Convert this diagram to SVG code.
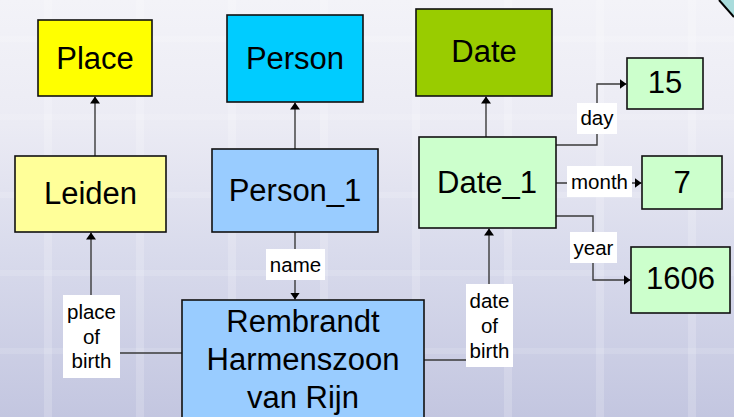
<svg xmlns="http://www.w3.org/2000/svg" width="734" height="417" viewBox="0 0 734 417">
  <defs>
    <linearGradient id="bg" x1="0" y1="0" x2="0" y2="1">
      <stop offset="0" stop-color="#f3f3f8"/>
      <stop offset="0.3" stop-color="#ebebf4"/>
      <stop offset="0.6" stop-color="#d9dbec"/>
      <stop offset="1" stop-color="#c3c6e0"/>
    </linearGradient>
    <pattern id="grid" width="92" height="78" patternUnits="userSpaceOnUse">
      <rect x="44" y="0" width="8" height="78" fill="#ffffff" opacity="0.18"/>
      <rect x="0" y="36" width="92" height="6" fill="#ffffff" opacity="0.12"/>
    </pattern>
    <marker id="arrow" viewBox="0 0 7 10" refX="7" refY="5" markerWidth="7" markerHeight="10" markerUnits="userSpaceOnUse" orient="auto">
      <path d="M0,0 L7,5 L0,10 z" fill="#000"/>
    </marker>
    <style>
      .box { stroke: #111; stroke-width: 1.6; }
      .big { font-family: "Liberation Sans", Arial, sans-serif; font-size: 31px; fill: #000; text-anchor: middle; }
      .lbl { font-family: "Liberation Sans", Arial, sans-serif; font-size: 20.5px; fill: #000; text-anchor: middle; }
      .conn { fill: none; stroke: #3a3a3a; stroke-width: 1.4; }
      .tag { fill: #ffffff; }
    </style>
  </defs>

  <!-- backdrop -->
  <rect x="0" y="0" width="734" height="417" fill="url(#bg)"/>
  <rect x="0" y="0" width="734" height="417" fill="url(#grid)"/>
  <polygon points="719,0 734,0 734,17" fill="#a9dcdc"/>
  <line x1="719" y1="0" x2="734" y2="17" stroke="#000" stroke-width="2"/>

  <!-- connectors -->
  <g id="connectors">
    <line class="conn" x1="95" y1="156" x2="95" y2="96.5" marker-end="url(#arrow)"/>
    <line class="conn" x1="295" y1="149" x2="295" y2="102.5" marker-end="url(#arrow)"/>
    <line class="conn" x1="486" y1="137" x2="486" y2="96.5" marker-end="url(#arrow)"/>
    <line class="conn" x1="295" y1="232" x2="295" y2="299.5" marker-end="url(#arrow)"/>
    <path class="conn" d="M182,353 H91 V232.5" marker-end="url(#arrow)"/>
    <path class="conn" d="M424,360 H489 V228.5" marker-end="url(#arrow)"/>
    <path class="conn" d="M556,145 H597 V84 H626.5" marker-end="url(#arrow)"/>
    <path class="conn" d="M556,183 H641.5" marker-end="url(#arrow)"/>
    <path class="conn" d="M556,216 H593 V280 H630.5" marker-end="url(#arrow)"/>

    <rect class="tag" x="266" y="249" width="59" height="31"/>
    <text class="lbl" x="295.5" y="272">name</text>

    <rect class="tag" x="63" y="295" width="57" height="83"/>
    <text class="lbl" x="91.5" y="319">place</text>
    <text class="lbl" x="91.5" y="343.5">of</text>
    <text class="lbl" x="91.5" y="368">birth</text>

    <rect class="tag" x="466" y="284" width="47" height="83"/>
    <text class="lbl" x="489.5" y="308">date</text>
    <text class="lbl" x="489.5" y="333">of</text>
    <text class="lbl" x="489.5" y="358">birth</text>

    <rect class="tag" x="577" y="103" width="40" height="31"/>
    <text class="lbl" x="597" y="125">day</text>

    <rect class="tag" x="567" y="166" width="65" height="31"/>
    <text class="lbl" x="599.5" y="189">month</text>

    <rect class="tag" x="570" y="232" width="47" height="31"/>
    <text class="lbl" x="593.5" y="255">year</text>
  </g>

  <!-- nodes -->
  <g id="place">
    <rect class="box" x="38" y="20" width="114" height="76" fill="#ffff00"/>
    <text class="big" x="95" y="69">Place</text>
  </g>
  <g id="person">
    <rect class="box" x="227" y="15" width="136" height="87" fill="#00ccff"/>
    <text class="big" x="295" y="69">Person</text>
  </g>
  <g id="date">
    <rect class="box" x="416" y="9" width="136" height="87" fill="#99cc00"/>
    <text class="big" x="484" y="62">Date</text>
  </g>
  <g id="leiden">
    <rect class="box" x="15" y="156" width="151" height="76" fill="#ffff99"/>
    <text class="big" x="90.5" y="204">Leiden</text>
  </g>
  <g id="person_1">
    <rect class="box" x="212" y="149" width="166" height="83" fill="#99ccff"/>
    <text class="big" x="295" y="201">Person_1</text>
  </g>
  <g id="date_1">
    <rect class="box" x="419" y="137" width="137" height="91" fill="#ccffcc"/>
    <text class="big" x="487" y="193">Date_1</text>
  </g>
  <g id="day15">
    <rect class="box" x="627" y="58" width="76" height="51" fill="#ccffcc"/>
    <text class="big" x="665" y="93">15</text>
  </g>
  <g id="month7">
    <rect class="box" x="642" y="156" width="80" height="53" fill="#ccffcc"/>
    <text class="big" x="682" y="193">7</text>
  </g>
  <g id="year1606">
    <rect class="box" x="631" y="247" width="99" height="66" fill="#ccffcc"/>
    <text class="big" x="680.5" y="289">1606</text>
  </g>
  <g id="rembrandt">
    <rect class="box" x="182" y="300" width="242" height="130" fill="#99ccff"/>
    <text class="big" x="303" y="332">Rembrandt</text>
    <text class="big" x="303" y="370">Harmenszoon</text>
    <text class="big" x="303" y="408">van Rijn</text>
  </g>
</svg>
